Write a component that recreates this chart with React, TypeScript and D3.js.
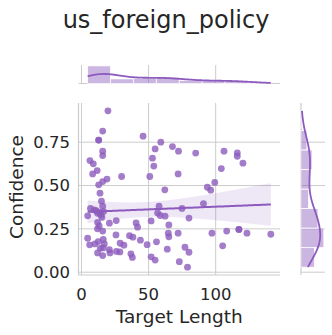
import React from "react";
import * as d3 from "d3";

const title = "us_foreign_policy";
const xLabel = "Target Length";
const yLabel = "Confidence";
const xTicks = [0, 50, 100];
const yTicks = [0, 0.25, 0.5, 0.75];

const targetLength = [
  19.7, 15.8, 12.8, 15.8, 15.8, 6.3, 8.8, 11.7, 8.3, 19.0,
  15.8, 29.9, 45.9, 59.1, 54.9, 67.8, 72.3, 85.1, 52.9, 53.9,
  50.9, 72.0, 106.2, 116.1, 116.1, 120.3, 104.2, 99.3, 12.8, 93.8,
  96.3, 62.1, 13.8, 14.9, 15.8, 6.7, 4.6, 15.2, 12.0, 13.2,
  11.9, 15.8, 20.8, 25.9, 40.7, 41.8, 51.9, 57.8, 56.7, 58.6,
  62.3, 65.1, 74.9, 80.1, 90.9, 64.7, 65.1, 72.0, 97.2, 108.2,
  117.3, 123.3, 141.1, 105.2, 4.6, 6.1, 10.0, 12.5, 16.2, 17.0,
  14.0, 16.2, 12.0, 15.8, 20.8, 21.2, 26.0, 28.8, 31.6, 28.6,
  25.7, 35.8, 38.3, 43.9, 48.9, 55.9, 36.8, 37.9, 51.9, 54.9,
  63.9, 77.1, 80.1, 72.9, 79.0,
  13.5, 11.0, 14.5, 9.5, 16.5, 12.0, 117.3, 12.8,
];

const confidence = [
  0.931, 0.814, 0.762, 0.698, 0.673, 0.644, 0.625, 0.586, 0.567, 0.537,
  0.523, 0.552, 0.785, 0.750, 0.711, 0.725, 0.698, 0.687, 0.658, 0.612,
  0.552, 0.567, 0.698, 0.688, 0.669, 0.629, 0.598, 0.518, 0.504, 0.490,
  0.473, 0.475, 0.456, 0.410, 0.381, 0.368, 0.325, 0.317, 0.287, 0.267,
  0.250, 0.237, 0.283, 0.298, 0.284, 0.260, 0.296, 0.381, 0.342, 0.327,
  0.323, 0.273, 0.368, 0.312, 0.396, 0.225, 0.204, 0.225, 0.225, 0.237,
  0.247, 0.225, 0.219, 0.152, 0.196, 0.158, 0.163, 0.177, 0.189, 0.163,
  0.138, 0.140, 0.111, 0.096, 0.130, 0.111, 0.120, 0.167, 0.156, 0.117,
  0.215, 0.211, 0.202, 0.185, 0.159, 0.175, 0.106, 0.085, 0.089, 0.070,
  0.133, 0.144, 0.115, 0.061, 0.029,
  0.345, 0.355, 0.330, 0.360, 0.350, 0.340, 0.247, 0.762,
];

const W = 332;
const H = 335;
const COLOR = "#8c5bbd";
const GRID = "#cccccc";
const TEXT = "#262626";
const FONT = "DejaVu Sans, sans-serif";
const NBINS = 8;

const main = { left: 78.5, right: 280, top: 103, bottom: 275 };
const topM = { top: 65, bottom: 83.5 };
const rightM = { left: 301, right: 325 };

function padExtent(arr: number[]): [number, number] {
  const [a, b] = d3.extent(arr) as [number, number];
  const p = (b - a) * 0.05;
  return [a - p, b + p];
}

function makeBins(values: number[]) {
  const [lo, hi] = d3.extent(values) as [number, number];
  const w = (hi - lo) / NBINS;
  const counts = new Array(NBINS).fill(0);
  values.forEach((v) => {
    let i = Math.floor((v - lo) / w);
    if (i >= NBINS) i = NBINS - 1;
    counts[i]++;
  });
  return { w, bins: counts.map((c, i) => ({ x0: lo + i * w, x1: lo + (i + 1) * w, count: c })) };
}

function kde(values: number[], binW: number): [number, number][] {
  const n = values.length;
  const [lo, hi] = d3.extent(values) as [number, number];
  const sd = d3.deviation(values) as number;
  const bw = sd * Math.pow(n, -0.2);
  return d3.range(0, 201).map((i) => {
    const g = lo + (i * (hi - lo)) / 200;
    const s = d3.sum(values, (v) => Math.exp(-0.5 * ((g - v) / bw) ** 2));
    return [g, (s / (bw * Math.sqrt(2 * Math.PI))) * binW];
  });
}

function regression(xs: number[], ys: number[]) {
  const n = xs.length;
  const xbar = d3.mean(xs) as number;
  const ybar = d3.mean(ys) as number;
  let sxx = 0, sxy = 0;
  for (let i = 0; i < n; i++) {
    sxx += (xs[i] - xbar) ** 2;
    sxy += (xs[i] - xbar) * (ys[i] - ybar);
  }
  const b = sxy / sxx;
  const a = ybar - b * xbar;
  let sse = 0;
  for (let i = 0; i < n; i++) sse += (ys[i] - (a + b * xs[i])) ** 2;
  const s = Math.sqrt(sse / (n - 2));
  const t = 1.984;
  const [lo, hi] = d3.extent(xs) as [number, number];
  return d3.range(0, 101).map((i) => {
    const x = lo + (i * (hi - lo)) / 100;
    const yh = a + b * x;
    const ci = t * s * Math.sqrt(1 / n + (x - xbar) ** 2 / sxx);
    return { x, y: yh, lo: yh - ci, hi: yh + ci };
  });
}

export default function App() {
  const x = d3.scaleLinear().domain(padExtent(targetLength)).range([main.left, main.right]);
  const y = d3.scaleLinear().domain(padExtent(confidence)).range([main.bottom, main.top]);

  const hx = makeBins(targetLength);
  const hy = makeBins(confidence);
  const kx = kde(targetLength, hx.w);
  const ky = kde(confidence, hy.w);

  const maxX = Math.max(d3.max(hx.bins, (b) => b.count) as number, d3.max(kx, (d) => d[1]) as number);
  const maxY = Math.max(d3.max(hy.bins, (b) => b.count) as number, d3.max(ky, (d) => d[1]) as number);
  const cx = d3.scaleLinear().domain([0, maxX * 1.05]).range([topM.bottom, topM.top]);
  const cy = d3.scaleLinear().domain([0, maxY * 1.05]).range([rightM.left, rightM.right]);

  const reg = regression(targetLength, confidence);
  const bandPath = d3.area<any>().x((d) => x(d.x)).y0((d) => y(d.lo)).y1((d) => y(d.hi))(reg) as string;
  const linePath = d3.line<any>().x((d) => x(d.x)).y((d) => y(d.y))(reg) as string;
  const kxPath = d3.line<[number, number]>().x((d) => x(d[0])).y((d) => cx(d[1]))(kx) as string;
  const kyPath = d3.line<[number, number]>().x((d) => cy(d[1])).y((d) => y(d[0]))(ky) as string;

  return (
    <div style={{ position: "fixed", left: 0, top: 0, width: W, height: H, background: "#fff" }}>
      <svg width={W} height={H} style={{ display: "block", fontFamily: FONT }}>
        <rect x={0} y={0} width={W} height={H} fill="#fff" />
        {xTicks.map((t) => (
          <line key={"gx" + t} x1={x(t)} x2={x(t)} y1={main.top} y2={main.bottom} stroke={GRID} strokeWidth={1} />
        ))}
        {yTicks.map((t) => (
          <line key={"gy" + t} x1={main.left} x2={main.right} y1={y(t)} y2={y(t)} stroke={GRID} strokeWidth={1} />
        ))}
        {xTicks.map((t) => (
          <line key={"tgx" + t} x1={x(t)} x2={x(t)} y1={topM.top} y2={topM.bottom} stroke={GRID} strokeWidth={1} />
        ))}
        {yTicks.map((t) => (
          <line key={"rgy" + t} x1={rightM.left} x2={rightM.right} y1={y(t)} y2={y(t)} stroke={GRID} strokeWidth={1} />
        ))}
        <line x1={main.left} x2={main.left} y1={main.top} y2={main.bottom} stroke={GRID} strokeWidth={1.2} />
        <line x1={main.left} x2={main.right} y1={main.bottom} y2={main.bottom} stroke={GRID} strokeWidth={1.2} />
        <line x1={main.left} x2={main.right} y1={topM.bottom} y2={topM.bottom} stroke={GRID} strokeWidth={1.2} />
        <line x1={rightM.left} x2={rightM.left} y1={main.top} y2={main.bottom} stroke={GRID} strokeWidth={1.2} />

        {hx.bins.map((b, i) => (
          <rect key={"hx" + i} x={x(b.x0)} y={cx(b.count)} width={x(b.x1) - x(b.x0)} height={cx(0) - cx(b.count)}
            fill={COLOR} fillOpacity={0.45} stroke="#fff" strokeWidth={0.8} />
        ))}
        <path d={kxPath} fill="none" stroke={COLOR} strokeWidth={1.8} />

        {hy.bins.map((b, i) => (
          <rect key={"hy" + i} x={cy(0)} y={y(b.x1)} width={cy(b.count) - cy(0)} height={y(b.x0) - y(b.x1)}
            fill={COLOR} fillOpacity={0.45} stroke="#fff" strokeWidth={0.8} />
        ))}
        <path d={kyPath} fill="none" stroke={COLOR} strokeWidth={1.8} />

        {targetLength.map((v, i) => (
          <circle key={"p" + i} cx={x(v)} cy={y(confidence[i])} r={3.4} fill={COLOR} fillOpacity={0.8} />
        ))}
        <path d={bandPath} fill={COLOR} fillOpacity={0.15} stroke="none" />
        <path d={linePath} fill="none" stroke={COLOR} strokeWidth={2} />

        {xTicks.map((t) => (
          <text key={"xl" + t} x={x(t)} y={300} textAnchor="middle" fontSize={16.5} fill={TEXT}>{t}</text>
        ))}
        {yTicks.map((t) => (
          <text key={"yl" + t} x={70} y={y(t)} dy="0.36em" textAnchor="end" fontSize={16.5} fill={TEXT}>{t.toFixed(2)}</text>
        ))}
        <text x={(main.left + main.right) / 2} y={323} textAnchor="middle" fontSize={18.5} fill={TEXT}>{xLabel}</text>
        <text transform={`translate(23,${(main.top + main.bottom) / 2 - 2}) rotate(-90)`} textAnchor="middle" fontSize={18.5} fill={TEXT}>{yLabel}</text>
        <text x={166} y={28} textAnchor="middle" fontSize={24} fill={TEXT}>{title}</text>
      </svg>
    </div>
  );
}
